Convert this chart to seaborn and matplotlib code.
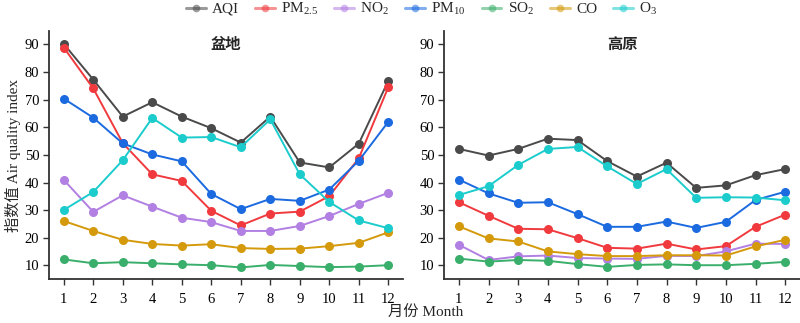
import numpy as np
import pandas as pd
import matplotlib
matplotlib.use("Agg")
import matplotlib.pyplot as plt
from matplotlib.lines import Line2D
import seaborn as sns

months = list(range(1, 13))
pollutants = ["AQI", "PM2.5", "NO2", "PM10", "SO2", "CO", "O3"]
legend_labels = ["AQI", r"PM$_{2.5}$", r"NO$_2$", r"PM$_{10}$", r"SO$_2$", "CO", r"O$_3$"]
colors = ["#4a4a4a", "#f03a3e", "#b27fe2", "#1b6ae0", "#3aae6b", "#d49a0c", "#1ccccc"]
panel_titles = ["盆地", "高原"]

basin_aqi = [90.2, 77.3, 63.9, 69.1, 63.9, 59.7, 54.5, 63.9, 47.3, 45.5, 54.1, 76.8]
basin_pm25 = [88.9, 74.1, 54.3, 43.0, 40.6, 29.8, 24.5, 28.8, 29.5, 35.1, 48.8, 74.5]
basin_no2 = [41.0, 29.4, 35.4, 31.3, 27.3, 25.7, 22.5, 22.5, 24.3, 27.9, 32.3, 36.3]
basin_pm10 = [70.4, 63.5, 54.2, 50.2, 47.7, 35.9, 30.4, 34.1, 33.4, 37.5, 47.9, 62.0]
basin_so2 = [12.2, 10.8, 11.2, 10.8, 10.4, 10.1, 9.3, 10.2, 9.8, 9.4, 9.6, 10.1]
basin_co = [26.1, 22.5, 19.3, 17.8, 17.2, 17.7, 16.3, 16.0, 16.1, 17.0, 18.2, 22.0]
basin_o3 = [30.1, 36.6, 48.1, 63.4, 56.3, 56.5, 52.8, 62.9, 43.0, 33.0, 26.3, 23.5]

plateau_aqi = [52.2, 49.8, 52.2, 55.9, 55.4, 47.8, 42.2, 47.2, 38.1, 39.0, 42.7, 44.9]
plateau_pm25 = [32.9, 28.0, 23.3, 23.1, 19.9, 16.4, 16.1, 17.9, 15.8, 17.0, 24.0, 28.4]
plateau_no2 = [17.5, 12.0, 13.3, 13.6, 12.7, 12.5, 12.4, 13.5, 13.4, 15.1, 17.9, 17.8]
plateau_pm10 = [41.1, 36.1, 32.7, 32.9, 28.6, 24.0, 24.0, 25.9, 23.6, 25.8, 33.7, 36.7]
plateau_so2 = [12.5, 11.4, 12.0, 11.7, 10.5, 9.5, 10.2, 10.4, 10.1, 10.1, 10.6, 11.3]
plateau_co = [24.2, 19.8, 18.7, 15.1, 14.1, 13.4, 13.4, 13.7, 13.7, 13.6, 16.9, 19.3]
plateau_o3 = [35.5, 38.7, 46.4, 52.2, 52.9, 45.9, 39.5, 44.9, 34.5, 34.7, 34.6, 33.6]

basin = [basin_aqi, basin_pm25, basin_no2, basin_pm10, basin_so2, basin_co, basin_o3]
plateau = [plateau_aqi, plateau_pm25, plateau_no2, plateau_pm10, plateau_so2, plateau_co, plateau_o3]

def to_long(series_list):
    rows = []
    for name, vals in zip(pollutants, series_list):
        for m, v in zip(months, vals):
            rows.append({"Month": m, "Value": v, "Pollutant": name})
    return pd.DataFrame(rows)

sns.set_theme(style="ticks")
plt.rcParams["font.family"] = ["Liberation Serif", "Noto Sans CJK SC"]
plt.rcParams["mathtext.fontset"] = "custom"
plt.rcParams["mathtext.rm"] = "Liberation Serif"
plt.rcParams["mathtext.it"] = "Liberation Serif"
plt.rcParams["xtick.direction"] = "out"
plt.rcParams["ytick.direction"] = "out"

fig = plt.figure(figsize=(8.0, 3.23), dpi=100)
ax1 = fig.add_axes([0.06125, 0.1353, 0.4425, 0.7697])
ax2 = fig.add_axes([0.555, 0.1353, 0.445, 0.7697])

palette = dict(zip(pollutants, colors))
for ax, data, title in zip([ax1, ax2], [basin, plateau], panel_titles):
    df = to_long(data)
    sns.lineplot(data=df, x="Month", y="Value", hue="Pollutant", hue_order=pollutants,
                 palette=palette, marker="o", markersize=6.5, markeredgewidth=0,
                 linewidth=1.4, ax=ax, legend=False)
    ax.set_xlim(0.5, 12.5)
    ax.set_ylim(5, 95)
    ax.set_xticks(months)
    ax.set_yticks([10, 20, 30, 40, 50, 60, 70, 80, 90])
    ax.tick_params(axis="both", labelsize=10.5, length=4, width=1, colors="#333333",
                   labelcolor="black", pad=3)
    ax.tick_params(axis="x", pad=6)
    ax.set_xlabel("")
    ax.set_ylabel("")
    for s in ["top", "right"]:
        ax.spines[s].set_visible(False)
    for s in ["left", "bottom"]:
        ax.spines[s].set_linewidth(1.3)
        ax.spines[s].set_color("#333333")
    ax.text(0.5, 0.945, title, transform=ax.transAxes, ha="center", va="center",
            fontsize=11, fontweight="bold", family=["Noto Sans CJK SC"])

fig.text(0.016, 0.52, "指数值 Air quality index", rotation=90, ha="center", va="center",
         fontsize=11)
fig.text(0.532, 0.032, "月份 Month", ha="center", va="center", fontsize=11)

handles = [Line2D([0], [0], color=c, alpha=0.55, linewidth=2.2, marker="o",
                  markersize=5.5, markerfacecolor=c, markeredgewidth=0) for c in colors]
fig.legend(handles, legend_labels, loc="center", bbox_to_anchor=(0.527, 0.972), ncol=7,
           frameon=False, fontsize=11, handlelength=1.3, columnspacing=1.05,
           handletextpad=0.4)

fig.savefig("out.png", dpi=100)
